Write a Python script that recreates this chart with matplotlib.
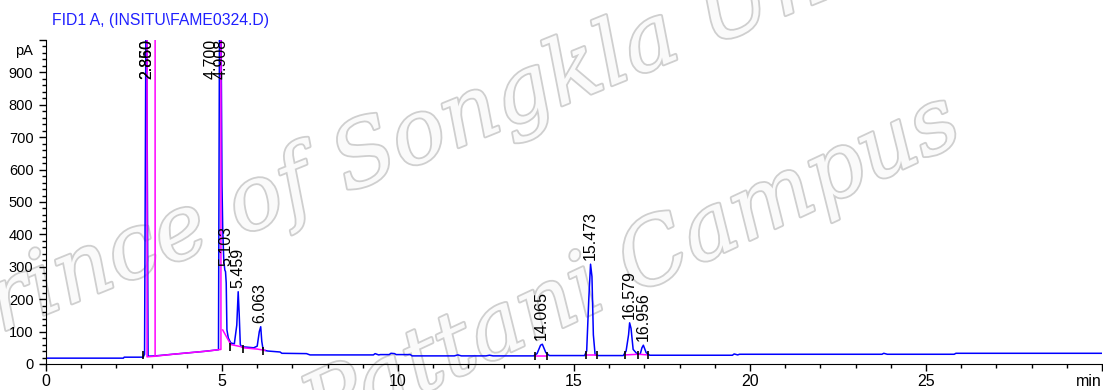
import matplotlib
matplotlib.use("Agg")
import matplotlib.pyplot as plt
import matplotlib.patheffects as pe
from matplotlib.ticker import MultipleLocator

title = "FID1 A, (INSITU\\FAME0324.D)"

# blue detector trace (min, pA); off-scale tops clipped by the axes
sig_t = [0.0, 2.2, 2.22, 2.76, 2.8, 2.84, 2.86, 2.9, 3.1, 3.5, 4.0, 4.5, 4.9,
         4.93, 4.97, 5.0, 5.02, 5.05, 5.08, 5.1, 5.12, 5.14, 5.18, 5.25,
         5.35, 5.42, 5.46, 5.49, 5.52, 5.56, 5.7, 5.9, 6.0, 6.06, 6.1, 6.13,
         6.17, 6.3, 6.65, 6.7, 7.4, 7.5, 9.3, 9.35, 9.45, 9.5, 9.75, 9.8, 9.9,
         9.95, 10.35, 10.4, 11.6, 11.7, 11.8, 12.5, 12.6, 12.7, 13.85, 13.95,
         14.05, 14.1, 14.2, 14.3, 15.3, 15.36, 15.42, 15.47, 15.51, 15.55,
         15.6, 15.7, 16.4, 16.48, 16.55, 16.58, 16.62, 16.68, 16.8, 16.88,
         16.93, 16.97, 17.05, 17.15, 19.5, 19.55, 19.65, 19.7, 23.75, 23.8,
         23.9, 25.8, 25.85, 30.0]
sig_v = [18, 18, 21, 21, 30, 1100, 1100, 24, 25, 29, 34, 39, 44,
         1100, 1100, 552, 420, 320, 290, 285, 250, 105, 80, 65,
         62, 120, 223, 150, 60, 53, 52, 50, 55, 100, 115, 70,
         43, 40, 37, 33, 32, 28, 28, 32, 28, 29, 29, 33, 32,
         29, 29, 25, 25, 28, 25, 25, 27, 25, 25, 32,
         58, 61, 35, 26, 26, 40, 200, 308, 270, 90,
         28, 26, 26, 40, 90, 127, 110, 45, 30, 30,
         50, 58, 35, 27, 27, 31, 28, 30, 30, 33,
         30, 30, 33, 33]

# integration baselines (magenta)
base_segs = [
    ([2.87, 2.87, 3.1, 3.1], [1100, 22, 24, 1100]),
    ([3.1, 3.6, 4.2, 4.6, 4.97, 4.97], [24, 30, 36, 40, 45, 1100]),
    ([5.02, 5.25, 5.6], [105, 60, 52]),
    ([5.6, 6.0, 6.22], [50, 46, 42]),
    ([13.9, 14.22], [26, 26]),
    ([15.34, 15.64], [27, 27]),
    ([16.45, 16.83, 17.1], [28, 30, 28]),
]

# peak start/stop event marks
event_t = [2.76, 5.23, 5.6, 6.17, 13.89, 14.22, 15.34, 15.64, 16.45, 16.83, 17.11]
event_v = [27, 53, 45, 40, 26, 26, 27, 27, 28, 29, 27]

# retention time labels
rt_labels = ["5.103", "5.459", "6.063", "14.065", "15.473", "16.579", "16.956"]
rt_x = [5.10, 5.46, 6.063, 14.065, 15.473, 16.579, 16.956]
rt_y = [290, 223, 115, 61, 308, 127, 58]
top_labels = ["2.850", "2.860", "4.700", "4.908"]
top_x = [2.85, 2.865, 4.70, 4.97]

x_ticks = [0, 5, 10, 15, 20, 25, 30]
x_ticklabels = ["0", "5", "10", "15", "20", "25", "min"]
y_ticks = [0, 100, 200, 300, 400, 500, 600, 700, 800, 900]

plt.rcParams["font.family"] = ["Liberation Sans", "DejaVu Sans"]

fig = plt.figure(figsize=(11.03, 3.90), dpi=100)
fig.patch.set_facecolor("white")

# watermark
wm = dict(fontsize=64, family="DejaVu Serif", style="italic", color="#fafafa",
          rotation_mode="anchor", ha="left", va="baseline", zorder=0.5,
          path_effects=[pe.withStroke(linewidth=2.6, foreground="#cfcfcf")])
fig.text(-0.05, 0.09, "Prince of Songkla University", rotation=22, **wm)
fig.text(0.29, -0.13, "Pattani Campus", rotation=25, **wm)

ax = fig.add_axes([0.0417, 0.0667, 0.9574, 0.8308])
ax.set_zorder(1)
ax.patch.set_alpha(0)

ax.plot(sig_t, sig_v, color="#0000ff", lw=1.1, zorder=2)
for bx, by in base_segs:
    ax.plot(bx, by, color="#ff00ff", lw=1.1, zorder=3)
ax.plot(event_t, event_v, ls="none", marker="|", ms=6, mew=1.2,
        color="black", zorder=4)

for lab, x, y in zip(rt_labels, rt_x, rt_y):
    ax.annotate(lab, (x, y), xytext=(0, 3), textcoords="offset points",
                rotation=90, ha="center", va="bottom", fontsize=11.5)
for lab, x in zip(top_labels, top_x):
    ax.text(x, 880, lab, rotation=90, ha="center", va="bottom",
            fontsize=11.5, clip_on=False)

ax.set_xlim(0, 30)
ax.set_ylim(0, 1000)
for s in ["top", "right"]:
    ax.spines[s].set_visible(False)
ax.set_xticks(x_ticks)
ax.set_xticklabels(x_ticklabels, fontsize=11.5)
ax.get_xticklabels()[-1].set_ha("right")
ax.xaxis.set_minor_locator(MultipleLocator(1))
ax.set_yticks(y_ticks + [1000])
ax.set_yticklabels([str(v) for v in y_ticks] + [""], fontsize=10.5)
ax.yaxis.set_minor_locator(MultipleLocator(20))
ax.tick_params(which="major", length=5, width=1, pad=2)
ax.tick_params(which="minor", length=3, width=1)
ax.tick_params(axis="y", which="major", pad=4)
ax.text(-0.012, 966, "pA", transform=ax.get_yaxis_transform(),
        ha="right", va="center", fontsize=10.5)

fig.text(0.047, 0.948, title, color="#2020ff", fontsize=11.3, ha="left",
         va="center")

fig.savefig("out.png", dpi=100)
